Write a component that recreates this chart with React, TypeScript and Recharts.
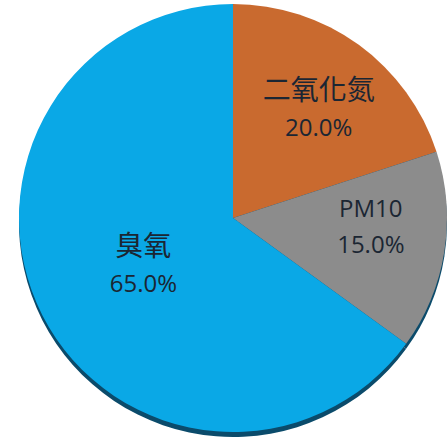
import { Cell, Pie, PieChart } from "recharts";

const POLLUTANTS = ["二氧化氮", "PM10", "臭氧"];
const SHARES = [20, 15, 65];

const SLICE_COLORS = ["#C96A2F", "#8C8C8C", "#0AA8E6"];
const SHADOW_COLOR = "#0B4B6B";
// where each label sits (Excel's "best fit"): share of radius, angle nudge in degrees
const LABEL_RADIUS = [0.65, 0.645, 0.47];
const LABEL_NUDGE = [-2, 6, 0];

const rows = POLLUTANTS.map((name, i) => ({ name, value: SHARES[i] }));

const RADIAN = Math.PI / 180;
const hasCjk = (s: string) => /[\u4e00-\u9fff]/.test(s);

function SliceLabel(props: {
  cx: number;
  cy: number;
  midAngle: number;
  outerRadius: number;
  index: number;
  name: string;
  percent: number;
}) {
  const { cx, cy, midAngle, outerRadius, index, name, percent } = props;
  const r = outerRadius * LABEL_RADIUS[index];
  const a = (midAngle + LABEL_NUDGE[index]) * RADIAN;
  const x = cx + r * Math.cos(-a);
  const y = cy + r * Math.sin(-a);
  return (
    <text x={x} y={y} textAnchor="middle" fill="#1B2633" fontFamily="'Open Sans', sans-serif">
      <tspan
        x={x}
        dy={-8}
        fontSize={hasCjk(name) ? 28 : 24}
        fontFamily={hasCjk(name) ? "'Noto Sans CJK TC', sans-serif" : "'Open Sans', sans-serif"}
      >
        {name}
      </tspan>
      <tspan x={x} dy={36} fontSize={24}>
        {(percent * 100).toFixed(1)}%
      </tspan>
    </text>
  );
}

export default function App() {
  return (
    <div style={{ width: 448, height: 441, background: "#fff", overflow: "hidden" }}>
      <style>{"body{margin:0}"}</style>
      <PieChart width={448} height={441} margin={{ top: 0, right: 0, bottom: 0, left: 0 }}>
        {/* drop shadow under the pie */}
        <Pie
          data={rows}
          dataKey="value"
          cx={233}
          cy={223}
          outerRadius={214}
          startAngle={90}
          endAngle={-270}
          stroke="none"
          fill={SHADOW_COLOR}
          isAnimationActive={false}
          legendType="none"
        />
        <Pie
          data={rows}
          dataKey="value"
          nameKey="name"
          cx={233}
          cy={218}
          outerRadius={214}
          startAngle={90}
          endAngle={-270}
          stroke="none"
          labelLine={false}
          label={SliceLabel}
          isAnimationActive={false}
        >
          {rows.map((row, i) => (
            <Cell key={row.name} fill={SLICE_COLORS[i]} />
          ))}
        </Pie>
      </PieChart>
    </div>
  );
}
